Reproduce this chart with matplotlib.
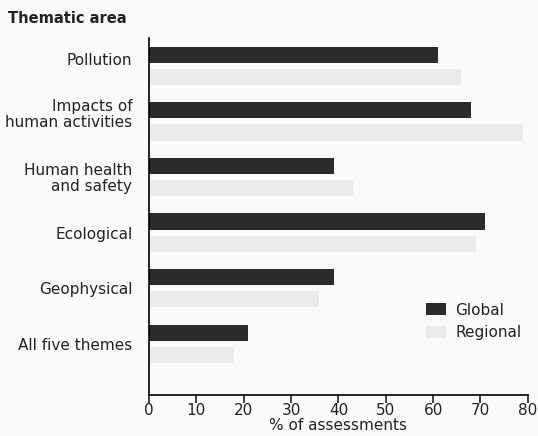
import matplotlib
matplotlib.use("Agg")
import matplotlib.pyplot as plt
import numpy as np

categories = ["Pollution", "Impacts of\nhuman activities", "Human health\nand safety",
              "Ecological", "Geophysical", "All five themes"]
global_vals = [61, 68, 39, 71, 39, 21]
regional_vals = [66, 79, 43, 69, 36, 18]
xticks = [0, 10, 20, 30, 40, 50, 60, 70, 80]

plt.rcParams['font.family'] = ['DejaVu Sans']
fig = plt.figure(figsize=(5.38, 4.36), dpi=100)
fig.patch.set_facecolor('#fafafa')
ax = fig.add_axes([0.277, 0.094, 0.704, 0.819])
ax.set_facecolor('#fafafa')

y = np.arange(len(categories))
h = 0.29
ax.barh(y - 0.2, global_vals, height=h, color='#2b2b2b', label='Global')
ax.barh(y + 0.2, regional_vals, height=h, color='#ebebeb', label='Regional')

ax.set_ylim(5.92, -0.5)
ax.set_xlim(0, 80)
# label anchor positions (slightly raised for the upper rows, as in the reference)
label_shift = np.array([-0.12, -0.16, 0.0, 0.0, 0.0, 0.0])
ax.set_yticks(y + label_shift)
ax.set_yticklabels(categories, fontsize=11, color='#222222', linespacing=1.05)
ax.tick_params(axis='y', length=0, pad=12)
ax.set_xticks(xticks)
ax.set_xticklabels([str(t) for t in xticks], fontsize=11, color='#222222')
ax.tick_params(axis='x', direction='out', length=6, width=1.2, color='#222222', pad=0)
for s in ['top', 'right']:
    ax.spines[s].set_visible(False)
ax.spines['left'].set_linewidth(1.2)
ax.spines['bottom'].set_linewidth(1.2)
ax.set_xlabel('% of assessments', fontsize=11, color='#222222', labelpad=0)

fig.text(0.015, 0.958, 'Thematic area', fontsize=10.5, fontweight='bold', color='#222222', ha='left', va='center')

leg = ax.legend(loc='lower right', bbox_to_anchor=(1.02, 0.115), frameon=False, fontsize=11,
                handlelength=1.3, handleheight=0.8, handletextpad=0.6, labelspacing=0.5)
for t in leg.get_texts():
    t.set_color('#222222')

fig.savefig('out.png', dpi=100, facecolor=fig.get_facecolor())
